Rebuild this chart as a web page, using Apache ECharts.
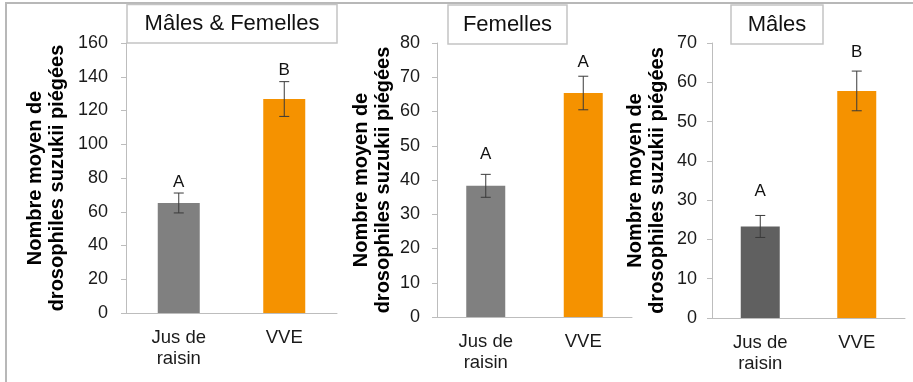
<!DOCTYPE html>
<html>
<head>
<meta charset="utf-8">
<script src="https://cdn.jsdelivr.net/npm/echarts@6/dist/echarts.min.js"></script>
<style>
html,body{margin:0;padding:0;background:#fff;}
#chart{width:913px;height:382px;}
</style>
</head>
<body>
<div id="chart"></div>
<script>
// ---- data ----
const categories = ['Jus de\nraisin', 'VVE'];
const panelTitles = ['Mâles & Femelles', 'Femelles', 'Mâles'];
const yAxisName = 'Nombre moyen de\ndrosophiles suzukii piégées';

const meansAll = [65.2, 126.8];
const errAll = [5.9, 10.3];
const lettersAll = ['A', 'B'];
const letterPosAll = [77.3, 143.7];

const meansF = [38.3, 65.4];
const errF = [3.35, 4.9];
const lettersF = ['A', 'A'];
const letterPosF = [47.6, 74.5];

const meansM = [23.3, 57.8];
const errM = [2.8, 5.05];
const lettersM = ['A', 'B'];
const letterPosM = [32.2, 67.6];

const yMax = [160, 80, 70];
const yInterval = [20, 10, 10];

const barColors = [
  ['#808080', '#f59200'],
  ['#808080', '#f59200'],
  ['#606060', '#f59200']
];

// ---- layout ----
const FONT = 'Liberation Sans, Arial, sans-serif';
const grids = [
  {left: 126, top: 43, width: 211, height: 270},
  {left: 437, top: 43, width: 195, height: 274},
  {left: 712, top: 43, width: 193, height: 275}
];
const nameGaps = [58, 43, 44];
const labelMargins = [18, 17, 15];
const titleBoxes = [
  {x: 127, y: 4.5, w: 210, h: 38.5},
  {x: 448, y: 5, w: 119, h: 39},
  {x: 731, y: 5, w: 92, h: 39}
];

const panels = [
  {means: meansAll, errs: errAll, letters: lettersAll, letterPos: letterPosAll},
  {means: meansF, errs: errF, letters: lettersF, letterPos: letterPosF},
  {means: meansM, errs: errM, letters: lettersM, letterPos: letterPosM}
];

function errRender(params, api) {
  const x = api.value(0), m = api.value(1), e = api.value(2);
  const hi = api.coord([x, m + e]);
  const lo = api.coord([x, m - e]);
  const cap = 5;
  const style = {stroke: '#3a3a3a', lineWidth: 1};
  return {
    type: 'group',
    children: [
      {type: 'line', shape: {x1: hi[0], y1: hi[1], x2: lo[0], y2: lo[1]}, style: style},
      {type: 'line', shape: {x1: hi[0] - cap, y1: hi[1], x2: hi[0] + cap, y2: hi[1]}, style: style},
      {type: 'line', shape: {x1: lo[0] - cap, y1: lo[1], x2: lo[0] + cap, y2: lo[1]}, style: style}
    ]
  };
}

function letterRender(letters) {
  return function (params, api) {
    const p = api.coord([api.value(0), api.value(1)]);
    return {
      type: 'text',
      x: p[0], y: p[1],
      style: {
        text: letters[params.dataIndex],
        fill: '#111',
        fontSize: 17,
        fontFamily: FONT,
        align: 'center',
        verticalAlign: 'middle'
      }
    };
  };
}

const option = {
  backgroundColor: '#fff',
  animation: false,
  grid: grids.map(g => Object.assign({containLabel: false, outerBoundsMode: 'none'}, g)),
  xAxis: grids.map((g, i) => ({
    type: 'category',
    gridIndex: i,
    data: categories,
    axisLine: {lineStyle: {color: '#bdbdbd', width: 1}},
    axisTick: {show: false},
    axisLabel: {color: '#1a1a1a', fontSize: 18.5, fontFamily: FONT, lineHeight: 21, margin: 14, interval: 0}
  })),
  yAxis: grids.map((g, i) => ({
    type: 'value',
    gridIndex: i,
    min: 0,
    max: yMax[i],
    interval: yInterval[i],
    name: yAxisName,
    nameLocation: 'middle',
    nameGap: nameGaps[i],
    nameRotate: 90,
    nameTextStyle: {color: '#000', fontSize: 20, fontWeight: 'bold', fontFamily: FONT, lineHeight: 22},
    axisLine: {show: true, lineStyle: {color: '#bdbdbd', width: 1}},
    axisTick: {show: true, length: 5, lineStyle: {color: '#bdbdbd'}},
    splitLine: {show: false},
    axisLabel: {color: '#1a1a1a', fontSize: 18, fontFamily: FONT, margin: labelMargins[i]}
  })),
  series: [],
  graphic: []
};

panels.forEach((p, i) => {
  option.series.push({
    type: 'bar',
    xAxisIndex: i, yAxisIndex: i,
    barWidth: i === 0 ? 42 : 39,
    data: p.means.map((v, j) => ({value: v, itemStyle: {color: barColors[i][j]}})),
    silent: true
  });
  option.series.push({
    type: 'custom',
    xAxisIndex: i, yAxisIndex: i,
    renderItem: errRender,
    data: p.means.map((m, j) => [j, m, p.errs[j]]),
    z: 5,
    silent: true
  });
  option.series.push({
    type: 'custom',
    xAxisIndex: i, yAxisIndex: i,
    renderItem: letterRender(p.letters),
    data: p.letterPos.map((v, j) => [j, v]),
    z: 5,
    silent: true
  });
});

// outer frame (top and left)
option.graphic.push({
  type: 'polyline',
  shape: {points: [[6, 382], [6, 3], [913, 3]]},
  style: {stroke: '#b8b8b8', lineWidth: 2, fill: null},
  silent: true
});

titleBoxes.forEach((b, i) => {
  option.graphic.push({
    type: 'rect',
    shape: {x: b.x, y: b.y, width: b.w, height: b.h},
    style: {fill: '#fff', stroke: '#c4c4c4', lineWidth: 1.5},
    silent: true
  });
  option.graphic.push({
    type: 'text',
    x: b.x + b.w / 2, y: b.y + b.h / 2,
    style: {text: panelTitles[i], fill: '#111', fontSize: 22, fontFamily: FONT, align: 'center', verticalAlign: 'middle'},
    silent: true
  });
});

const chart = echarts.init(document.getElementById('chart'), null, {renderer: 'canvas'});
chart.setOption(option);
</script>
</body>
</html>
